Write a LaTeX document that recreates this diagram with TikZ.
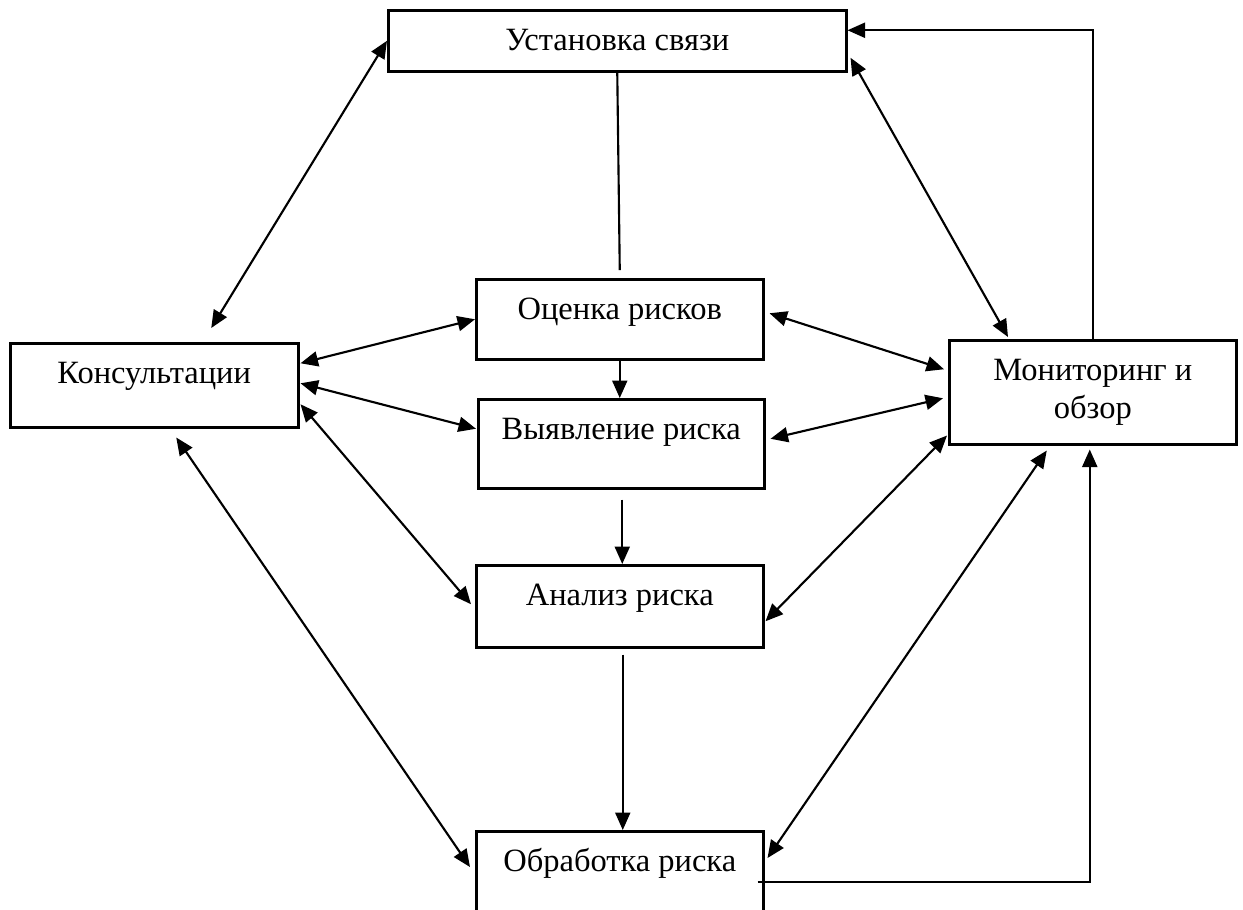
\documentclass[tikz,border=0pt]{standalone}
\usepackage{fontspec}
\setmainfont{Liberation Serif}
\usetikzlibrary{arrows.meta,calc}

\begin{document}
\begin{tikzpicture}[x=0.4pt, y=-0.4pt,
    every node/.style={font=\fontsize{13}{15.2}\selectfont},
    box/.style={draw, line width=1pt, anchor=north west, inner sep=0pt, minimum width=114.8pt},
    tbox/.style={box, text height=16pt, text depth=#1},
    twoway/.style={line width=0.85pt, {Triangle[length=7pt,width=6pt]}-{Triangle[length=7pt,width=6pt]}},
    oneway/.style={line width=0.85pt, -{Triangle[length=7pt,width=6pt]}},
    plain/.style={line width=0.85pt}]
  \useasboundingbox (0,0) rectangle (1243,909);
  \clip (0,0) rectangle (1243,909);

  \node[tbox=8.4pt, minimum width=183.2pt] (ustan) at (387,9) {Установка связи};
  \node[tbox=17.6pt, minimum width=115.2pt] (kons) at (9,342) {Консультации};
  \node[tbox=16pt] (ocen) at (475,278) {Оценка рисков};
  \node[tbox=19.6pt, minimum width=114.4pt] (vyyav) at (477,398) {Выявление риска};
  \node[tbox=16.8pt] (anal) at (475,564) {Анализ риска};
  \node[tbox=24pt] (obrab) at (475,830) {Обработка риска};
  \node[box, minimum height=41.6pt, align=center] (monit) at (948,339) {Мониторинг и\\обзор};

  \draw[twoway] (ustan.west) -- ($(kons.north)+(57,-14)$);
  \draw[plain] (ustan.south) -- ($(ocen.north)+(0,-8)$);
  \draw[twoway] ($(ustan.east)+(3,17)$) -- ($(monit.north west)+(60,-2)$);
  \draw[oneway] (monit.north) |- ($(ustan.east)+(0,-10.5)$);

  \draw[twoway] ($(kons.east)+(1,-22)$) -- (ocen.west);
  \draw[twoway] ($(ocen.east)+(5,-6)$) -- ($(monit.west)+(-4,-23)$);
  \draw[oneway] (ocen.south) -- (ocen.south |- vyyav.north);

  \draw[twoway] ($(kons.east)+(1,-2)$) -- ($(vyyav.west)+(-1,-15)$);
  \draw[twoway] ($(vyyav.east)+(5,-5)$) -- ($(monit.west)+(-5,6)$);
  \draw[oneway] ($(vyyav.south)+(1,10)$) -- ($(vyyav.south |- anal.north)+(1,0)$);

  \draw[twoway] ($(kons.east)+(1,19)$) -- ($(anal.west)+(-4,-2)$);
  \draw[twoway] ($(monit.south west)+(-1,-10)$) -- ($(anal.east)+(1,15)$);
  \draw[oneway] ($(anal.south)+(3,6)$) -- ($(obrab.north)+(3,0)$);

  \draw[twoway] ($(kons.south)+(22,9)$) -- ($(obrab.north west)+(-5,37)$);
  \draw[twoway] ($(monit.south)+(-46,5)$) -- ($(obrab.north east)+(3,28)$);
  \draw[oneway] ($(obrab.north east)+(-7,52)$) -| ($(monit.south)+(-3,4)$);
\end{tikzpicture}
\end{document}
